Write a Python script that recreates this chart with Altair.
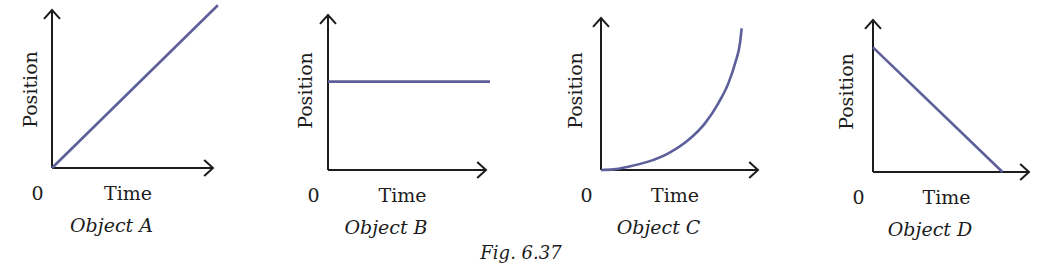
import altair as alt
import pandas as pd

# ---- data (time, position in axis units 0..1) ----
OBJECTS = ["Object A", "Object B", "Object C", "Object D"]

A_TIME = [0.0, 1.03]
A_POS = [0.0, 1.03]

B_TIME = [0.0, 1.025]
B_POS = [0.57, 0.57]

C_TIME = [0.0, 0.08, 0.174, 0.301, 0.429, 0.556, 0.662, 0.747, 0.811, 0.854, 0.885, 0.896]
C_POS = [0.0, 0.004, 0.022, 0.055, 0.110, 0.197, 0.307, 0.439, 0.570, 0.702, 0.833, 0.932]

D_TIME = [0.0, 0.83]
D_POS = [0.82, 0.0]

SERIES = [(A_TIME, A_POS), (B_TIME, B_POS), (C_TIME, C_POS), (D_TIME, D_POS)]

X_LABEL = "Time"
Y_LABEL = "Position"
ORIGIN_LABEL = "0"
FIG_CAPTION = "Fig. 6.37"

# ---- styling / layout (pixels) ----
FONT = "DejaVu Serif"
INK = "#1c1c1c"
LINE_COLOR = "#5c5f99"
VIEW_TOP = 10
AXIS_Y = [168, 170, 170, 172]      # where each time axis sits
ARROW_TOP = [10, 15, 18, 20]       # tip of each position arrow
WIDTHS = [161, 158, 157, 156]      # length of each time arrow
Y_TITLE_PAD = [12, 13, 16, 17]
SPACING = 115

RIGHT_CHEVRON = "M -1.1 -1 L 0 0 L -1.1 1"
UP_CHEVRON = "M -1 1.1 L 0 0 L 1 1.1"


def panel(name, times, positions, width, axis_y, arrow_top, ypad):
    height = axis_y - VIEW_TOP
    y_max = height / (axis_y - arrow_top)
    df = pd.DataFrame({"t": times, "p": positions})
    x_enc = alt.X(
        "t:Q",
        scale=alt.Scale(domain=[0, 1], nice=False, zero=False),
        axis=alt.Axis(
            values=[0],
            labelExpr=f"'{ORIGIN_LABEL}'",
            ticks=False,
            grid=False,
            domain=False,
            labelFont=FONT,
            labelFontSize=19,
            labelColor=INK,
            labelFlush=False,
            labelAlign="center",
            labelBaseline="alphabetic",
            labelOffset=-15,
            labelPadding=31,
            title=X_LABEL,
            titleFont=FONT,
            titleFontSize=19,
            titleFontWeight="normal",
            titleColor=INK,
            titleX=width / 2 - 5,
            titleY=31,
            titleBaseline="alphabetic",
        ),
    )
    y_enc = alt.Y(
        "p:Q",
        scale=alt.Scale(domain=[0, y_max], nice=False, zero=False),
        axis=alt.Axis(
            labels=False,
            ticks=False,
            grid=False,
            domain=False,
            title=Y_LABEL,
            titleFont=FONT,
            titleFontSize=19,
            titleFontWeight="normal",
            titleColor=INK,
            titlePadding=ypad,
        ),
    )
    axes_df = pd.DataFrame({"t": [0.0, 0.0], "t2": [1.0, 0.0], "p": [0.0, 0.0], "p2": [0.0, 1.0]})
    axes = alt.Chart(axes_df).mark_rule(color=INK, strokeWidth=2).encode(
        x=x_enc, x2="t2:Q", y=y_enc, y2="p2:Q"
    )
    curve = alt.Chart(df).mark_line(
        color=LINE_COLOR, strokeWidth=2.6, interpolate="monotone"
    ).encode(x=x_enc, y=y_enc)

    x_tip = alt.Chart(pd.DataFrame({"t": [1.0], "p": [0.0]})).mark_point(
        shape=RIGHT_CHEVRON, filled=False, strokeWidth=2, color=INK, size=256, opacity=1
    ).encode(x=x_enc, y=y_enc)
    y_tip = alt.Chart(pd.DataFrame({"t": [0.0], "p": [1.0]})).mark_point(
        shape=UP_CHEVRON, filled=False, strokeWidth=2, color=INK, size=256, opacity=1
    ).encode(x=x_enc, y=y_enc)

    return alt.layer(axes, curve, x_tip, y_tip).properties(
        width=width,
        height=height,
        title=alt.TitleParams(
            name,
            orient="bottom",
            anchor="middle",
            frame="group",
            font=FONT,
            fontSize=19,
            fontStyle="italic",
            fontWeight="normal",
            color=INK,
            dx=-21,
            offset=14,
        ),
    )


panels = [
    panel(n, t, p, w, ay, at, yp)
    for n, (t, p), w, ay, at, yp in zip(OBJECTS, SERIES, WIDTHS, AXIS_Y, ARROW_TOP, Y_TITLE_PAD)
]

chart = alt.hconcat(*panels, spacing=SPACING, bounds="flush").properties(
    background="white",
    padding={"left": 21, "top": 0, "right": 10, "bottom": 5},
    title=alt.TitleParams(
        FIG_CAPTION,
        orient="bottom",
        anchor="middle",
        font=FONT,
        fontSize=18,
        fontStyle="italic",
        fontWeight="normal",
        color=INK,
        dx=-6,
        offset=5,
    ),
).configure_view(strokeWidth=0, stroke="transparent")

chart.save("out.html", embed_options={"renderer": "svg", "actions": False})
